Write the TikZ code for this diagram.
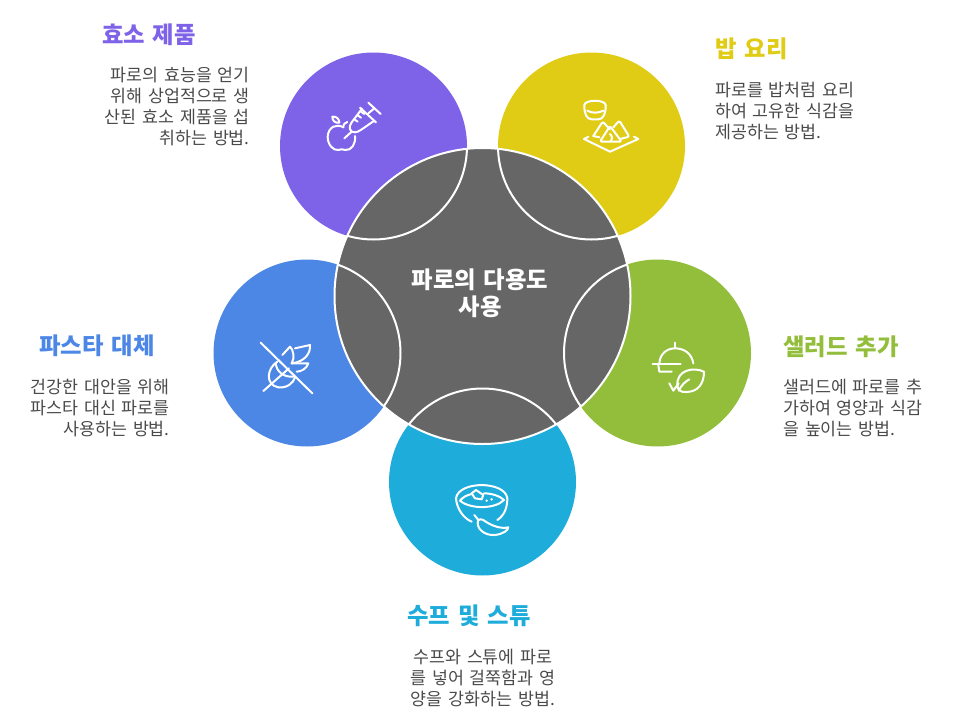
\documentclass[tikz,border=0pt]{standalone}
\usepackage{fontspec}
\setmainfont{Noto Sans CJK KR}
\newfontfamily\titlefont[WordSpace=1.6]{Noto Sans CJK KR}
\newfontfamily\blurbfont[WordSpace=1.5]{Noto Sans CJK KR}
\usetikzlibrary{positioning}
\definecolor{enzymecol}{HTML}{7E63E8}
\definecolor{ricecol}{HTML}{E0CB15}
\definecolor{saladcol}{HTML}{93BE3B}
\definecolor{soupcol}{HTML}{1EACDB}
\definecolor{pastacol}{HTML}{4C87E6}
\definecolor{hubcol}{HTML}{666666}
\definecolor{bodycol}{HTML}{4A4A4A}
\tikzset{
  bubble/.style={circle, inner sep=0pt, minimum size=140.25pt},
  heading/.style={font=\titlefont\fontsize{17.5}{21}\selectfont\bfseries, inner sep=0pt},
  blurb/.style={font=\blurbfont\fontsize{13}{15.75}\selectfont, text=bodycol, inner sep=0pt},
  icon/.style={draw=white, line width=1.5pt, line cap=round, line join=round}
}
\begin{document}
\begin{tikzpicture}[x=0.75pt, y=-0.75pt]
\useasboundingbox (0,0) rectangle (954,728);

\node [bubble, fill=enzymecol] (enzyme) at (373.5,146) {};
\node [bubble, fill=ricecol] (rice) at (591.5,146) {};
\node [bubble, fill=saladcol] (salad) at (657.5,353) {};
\node [bubble, fill=soupcol] (soup) at (482.5,482) {};
\node [bubble, fill=pastacol] (pasta) at (307,353) {};

\node [circle, fill=hubcol, draw=white, line width=1.5pt, inner sep=0pt, minimum size=222pt] (hub) at (482.5,296) {};

\begin{scope}
  \clip (hub.center) circle [radius=148];
  \foreach \n in {enzyme,rice,salad,soup,pasta}{
    \draw [white, line width=1.5pt] (\n.center) circle [radius=93.5];
  }
\end{scope}

\node [heading, text=white, align=center, font=\titlefont\fontsize{17.5}{20.5}\selectfont\bfseries] (hublabel) at (480,293) {파로의 다용도\\사용};

% apple and syringe
\begin{scope}[shift={(300,80)}, scale=1/3]
  \draw [icon] (130,142) .. controls (110,130) and (85,140) .. (83,170) .. controls (83,195) and (100,212) .. (115,210) .. controls (122,207) and (128,207) .. (135,210) .. controls (155,213) and (168,190) .. (165,168);
  \draw [icon] (130,142) .. controls (130,132) and (135,128) .. (142,126);
  \draw [icon] (97,110) .. controls (110,108) and (118,118) .. (118,128) .. controls (105,130) and (97,122) .. (97,110);
  \draw [icon] (133,175) -- (155,155);
  \draw [icon] (186,86) -- (155,127) .. controls (145,140) and (148,158) .. (165,157) .. controls (175,157) and (185,148) .. (220,124);
  \draw [icon] (180,83) -- (228,127);
  \draw [icon] (205,100) -- (223,85);
  \draw [icon] (205,68) -- (242,102);
  \foreach \a/\b in {163/118,173/106,183/95}{
    \draw [icon] (\a,\b) -- (\a+10,\b+7);
  }
\end{scope}

% bowl and dumplings
\begin{scope}[shift={(560,80)}, scale=1/3]
  \draw [icon] (73,75) .. controls (75,58) and (135,58) .. (137,75);
  \draw [icon] (73,75) .. controls (72,100) and (80,118) .. (95,118) -- (115,118) .. controls (130,118) and (138,100) .. (137,75);
  \draw [icon] (82,92) .. controls (95,100) and (115,100) .. (130,92);
  \draw [icon, rounded corners=1.5pt] (100,168) -- (128,125) -- (150,148);
  \draw [icon] (100,168) -- (118,172);
  \draw [icon, rounded corners=1.5pt] (120,185) -- (150,138) -- (185,185) -- cycle;
  \draw [icon] (150,162) .. controls (158,170) and (158,178) .. (152,185);
  \draw [icon, rounded corners=1.5pt] (160,142) -- (178,122) -- (208,170) -- (180,177);
  \draw [icon] (85,170) -- (72,177) -- (150,215) -- (235,177) -- (222,170);
\end{scope}

% cloche and leaf
\begin{scope}[shift={(630,320)}, scale=1/3]
  \draw [icon] (135,68) -- (135,85);
  \draw [icon] (88,130) .. controls (90,100) and (112,85) .. (135,85) .. controls (162,85) and (185,100) .. (190,130);
  \draw [icon] (68,133) -- (152,133);
  \draw [icon] (85,135) -- (88,155) -- (125,155);
  \draw [icon] (222,155) .. controls (190,140) and (140,150) .. (142,195) .. controls (143,212) and (155,218) .. (170,216) .. controls (205,215) and (222,190) .. (222,155);
  \draw [icon] (146,212) .. controls (155,195) and (165,185) .. (178,178);
  \draw [icon] (118,190) -- (130,212) -- (146,190);
\end{scope}

% soup bowl and chili
\begin{scope}[shift={(440,470)}, scale=1/3]
  \draw [icon] (48,85) .. controls (55,32) and (195,32) .. (202,85);
  \draw [icon] (60,92) .. controls (68,82) and (80,75) .. (95,72);
  \draw [icon] (132,70) .. controls (155,70) and (180,78) .. (192,90);
  \draw [icon] (60,92) .. controls (90,118) and (165,118) .. (192,90);
  \draw [icon] (48,85) .. controls (50,115) and (70,145) .. (95,155);
  \draw [icon] (172,150) .. controls (195,135) and (202,110) .. (202,85);
  \draw [icon] (95,70) -- (108,60) -- (130,75) -- (125,88) -- (105,85) -- cycle;
  \fill [white] (140,92) circle [radius=4];
  \fill [white] (155,88) circle [radius=4];
  \draw [icon] (103,135) -- (115,150);
  \draw [icon] (115,150) .. controls (105,175) and (135,198) .. (165,195) .. controls (190,192) and (205,180) .. (205,172) .. controls (180,178) and (150,165) .. (130,150) .. controls (125,147) and (118,147) .. (115,150);
\end{scope}

% crossed out plant
\begin{scope}[shift={(245,330)}, scale=1/3]
  \draw [icon] (47,38) -- (202,190);
  \draw [icon] (55,183) -- (132,115);
  \draw [icon] (97,95) .. controls (65,115) and (60,165) .. (100,172) .. controls (125,175) and (145,160) .. (150,142);
  \draw [icon] (92,100) .. controls (95,125) and (115,142) .. (145,140);
  \draw [icon] (112,75) -- (135,50) .. controls (145,58) and (150,85) .. (140,100);
  \draw [icon] (150,55) -- (195,45) .. controls (197,70) and (180,95) .. (140,100);
  \draw [icon] (140,100) -- (190,100) .. controls (185,115) and (170,125) .. (155,125);
\end{scope}

\node [heading, text=enzymecol] (enzymetitle) at (149,35) {효소 제품};
\node [blurb, align=right, anchor=north east] (enzymetext) at (250,67) {파로의 효능을 얻기\\위해 상업적으로 생\\산된 효소 제품을 섭\\취하는 방법.};

\node [heading, text=ricecol, anchor=west] (ricetitle) at (715,49) {밥 요리};
\node [blurb, align=left, anchor=north west] (ricetext) at (715,82) {파로를 밥처럼 요리\\하여 고유한 식감을\\제공하는 방법.};

\node [heading, text=saladcol, anchor=west] (saladtitle) at (783,347) {샐러드 추가};
\node [blurb, align=left, anchor=north west] (saladtext) at (783,379) {샐러드에 파로를 추\\가하여 영양과 식감\\을 높이는 방법.};

\node [heading, text=soupcol] (souptitle) at (469,616) {수프 및 스튜};
\node [blurb, align=center, anchor=north] (souptext) at (483,649) {수프와 스튜에 파로\\를 넣어 걸쭉함과 영\\양을 강화하는 방법.};

\node [heading, text=pastacol] (pastatitle) at (97,346) {파스타 대체};
\node [blurb, align=right, anchor=north east] (pastatext) at (170,379) {건강한 대안을 위해\\파스타 대신 파로를\\사용하는 방법.};

\end{tikzpicture}
\end{document}
